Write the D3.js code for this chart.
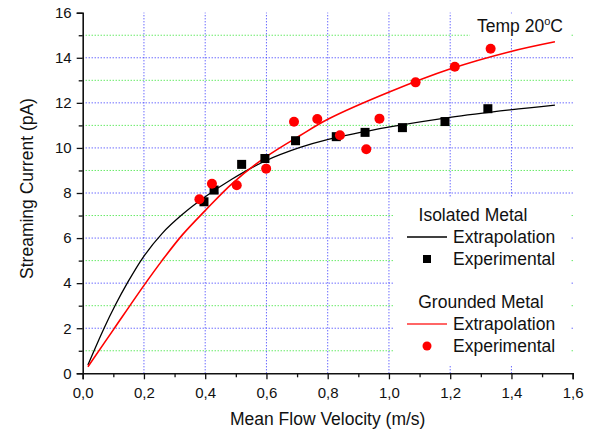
<!DOCTYPE html>
<html>
<head>
<meta charset="utf-8">
<title>Streaming Current</title>
<style>
  body { margin: 0; background: #fff; }
  text { font-family: "Liberation Sans", Arial, sans-serif; fill: #111; }
</style>
</head>
<body>
<script src="https://cdnjs.cloudflare.com/ajax/libs/d3/7.9.0/d3.min.js"></script>
<script>

    // measured points
    const isoVel = [0.396, 0.429, 0.519, 0.595, 0.695, 0.828, 0.922, 1.044, 1.183, 1.323];
    const isoCur = [7.61, 8.13, 9.27, 9.53, 10.32, 10.50, 10.69, 10.90, 11.17, 11.74];
    const gndVel = [0.381, 0.422, 0.503, 0.599, 0.690, 0.766, 0.840, 0.926, 0.969, 1.087, 1.215, 1.332];
    const gndCur = [7.72, 8.41, 8.34, 9.08, 11.16, 11.28, 10.56, 9.94, 11.30, 12.91, 13.60, 14.40];

    // extrapolation curves
    const isoFitVel = [0.017, 0.069, 0.107, 0.145, 0.199, 0.259, 0.324, 0.400, 0.488, 0.596, 0.710, 0.802, 1.003, 1.199, 1.395, 1.542];
    const isoFitCur = [0.37, 1.98, 3.04, 3.99, 5.18, 6.20, 7.03, 7.83, 8.62, 9.42, 10.02, 10.38, 10.93, 11.36, 11.69, 11.90];
    const gndFitVel = [0.017, 0.101, 0.199, 0.259, 0.324, 0.400, 0.488, 0.596, 0.710, 0.802, 1.003, 1.199, 1.395, 1.542];
    const gndFitCur = [0.29, 1.95, 3.88, 5.00, 6.12, 7.22, 8.42, 9.58, 10.55, 11.28, 12.49, 13.50, 14.27, 14.71];

    const xTicks = [0, 0.2, 0.4, 0.6, 0.8, 1.0, 1.2, 1.4, 1.6];
    const yTicks = [0, 2, 4, 6, 8, 10, 12, 14, 16];

    const width = 591;
    const height = 434;
    const margin = {top: 12.7, right: 18.3, bottom: 60.7, left: 82.7};

    const svg = d3.select("body")
        .append("svg")
        .attr("width", width)
        .attr("height", height);

    const x = d3.scaleLinear()
        .domain([0, 1.6])
        .range([margin.left, width - margin.right]);

    const y = d3.scaleLinear()
        .domain([0, 16])
        .range([height - margin.bottom, margin.top]);

    const fmt = d => d3.format(".1f")(d).replace(".", ",");

    // grid
    const grid = svg.append("g");
    grid.selectAll(".gy")
        .data(d3.range(1, 16))
        .enter()
        .append("line")
        .attr("x1", x(0)).attr("x2", x(1.6))
        .attr("y1", d => y(d)).attr("y2", d => y(d))
        .attr("stroke", d => d % 2 ? "#22e022" : "#2a2aff")
        .attr("stroke-width", 1)
        .attr("stroke-dasharray", "1,2");
    grid.selectAll(".gx")
        .data(xTicks.slice(1, -1))
        .enter()
        .append("line")
        .attr("x1", d => x(d)).attr("x2", d => x(d))
        .attr("y1", y(0)).attr("y2", y(16))
        .attr("stroke", "#2a2aff")
        .attr("stroke-width", 1)
        .attr("stroke-dasharray", "1,2");

    // white boxes behind legend and label
    svg.append("rect").attr("x", 394).attr("y", 197).attr("width", 176).attr("height", 169).attr("fill", "#fff");
    svg.append("rect").attr("x", 470).attr("y", 15).attr("width", 100).attr("height", 23).attr("fill", "#fff");

    // axes
    svg.append("g")
        .attr("transform", `translate(0,${y(0)})`)
        .call(d3.axisBottom(x).tickValues(xTicks).tickFormat(fmt).tickSize(6).tickPadding(8));
    svg.append("g")
        .attr("transform", `translate(0,${y(0)})`)
        .call(d3.axisBottom(x).tickValues(d3.range(0.1, 1.6, 0.2)).tickFormat("").tickSize(4))
        .select(".domain").remove();

    svg.append("g")
        .attr("transform", `translate(${x(0)},0)`)
        .call(d3.axisLeft(y).tickValues(yTicks).tickSize(6).tickPadding(5));
    svg.append("g")
        .attr("transform", `translate(${x(0)},0)`)
        .call(d3.axisLeft(y).tickValues(d3.range(1, 16, 2)).tickFormat("").tickSize(4))
        .select(".domain").remove();

    svg.selectAll(".domain").attr("stroke", "#111").attr("stroke-width", 1.6);
    svg.selectAll(".tick line").attr("stroke", "#111").attr("stroke-width", 1.3);
    svg.selectAll(".tick text")
        .style("font-family", "'Liberation Sans', Arial, sans-serif")
        .style("font-size", "15px")
        .attr("fill", "#111");

    // axis titles
    svg.append("text")
        .attr("x", x(0.8))
        .attr("y", 425)
        .attr("text-anchor", "middle")
        .style("font-size", "17.5px")
        .text("Mean Flow Velocity (m/s)");

    svg.append("text")
        .attr("transform", `translate(33,${y(8.2)}) rotate(-90)`)
        .attr("text-anchor", "middle")
        .style("font-size", "17.5px")
        .text("Streaming Current (pA)");

    // curves
    const line = d3.line()
        .x(d => x(d[0]))
        .y(d => y(d[1]))
        .curve(d3.curveCatmullRom.alpha(0.5));

    svg.append("path")
        .datum(d3.zip(isoFitVel, isoFitCur))
        .attr("d", line)
        .attr("fill", "none")
        .attr("stroke", "#000")
        .attr("stroke-width", 1.3);

    svg.append("path")
        .datum(d3.zip(gndFitVel, gndFitCur))
        .attr("d", line)
        .attr("fill", "none")
        .attr("stroke", "#ff0000")
        .attr("stroke-width", 1.6);

    // points
    svg.selectAll(".sq")
        .data(d3.zip(isoVel, isoCur))
        .enter()
        .append("rect")
        .attr("x", d => x(d[0]) - 4.5)
        .attr("y", d => y(d[1]) - 4.5)
        .attr("width", 9)
        .attr("height", 9)
        .attr("fill", "#000");

    svg.selectAll(".dot")
        .data(d3.zip(gndVel, gndCur))
        .enter()
        .append("circle")
        .attr("cx", d => x(d[0]))
        .attr("cy", d => y(d[1]))
        .attr("r", 5)
        .attr("fill", "#ff0000");

    // temperature label
    const temp = svg.append("text")
        .attr("x", 477)
        .attr("y", 32)
        .style("font-size", "17.5px");
    temp.append("tspan").text("Temp 20");
    temp.append("tspan").attr("dy", -7).style("font-size", "11px").text("o");
    temp.append("tspan").attr("dy", 7).text("C");

    // legend
    const lg = svg.append("g").style("font-size", "17.5px");
    lg.append("text").attr("x", 473).attr("y", 221).attr("text-anchor", "middle").text("Isolated Metal");
    lg.append("line").attr("x1", 407).attr("x2", 447).attr("y1", 237).attr("y2", 237).attr("stroke", "#000").attr("stroke-width", 1.3);
    lg.append("text").attr("x", 453).attr("y", 243).text("Extrapolation");
    lg.append("rect").attr("x", 423).attr("y", 255).attr("width", 8).attr("height", 8).attr("fill", "#000");
    lg.append("text").attr("x", 453).attr("y", 265).text("Experimental");

    lg.append("text").attr("x", 481).attr("y", 308).attr("text-anchor", "middle").text("Grounded Metal");
    lg.append("line").attr("x1", 407).attr("x2", 447).attr("y1", 324).attr("y2", 324).attr("stroke", "#ff3333").attr("stroke-width", 1.6);
    lg.append("text").attr("x", 453).attr("y", 330).text("Extrapolation");
    lg.append("circle").attr("cx", 427).attr("cy", 346).attr("r", 4.5).attr("fill", "#ff0000");
    lg.append("text").attr("x", 453).attr("y", 352).text("Experimental");

</script>
</body>
</html>
